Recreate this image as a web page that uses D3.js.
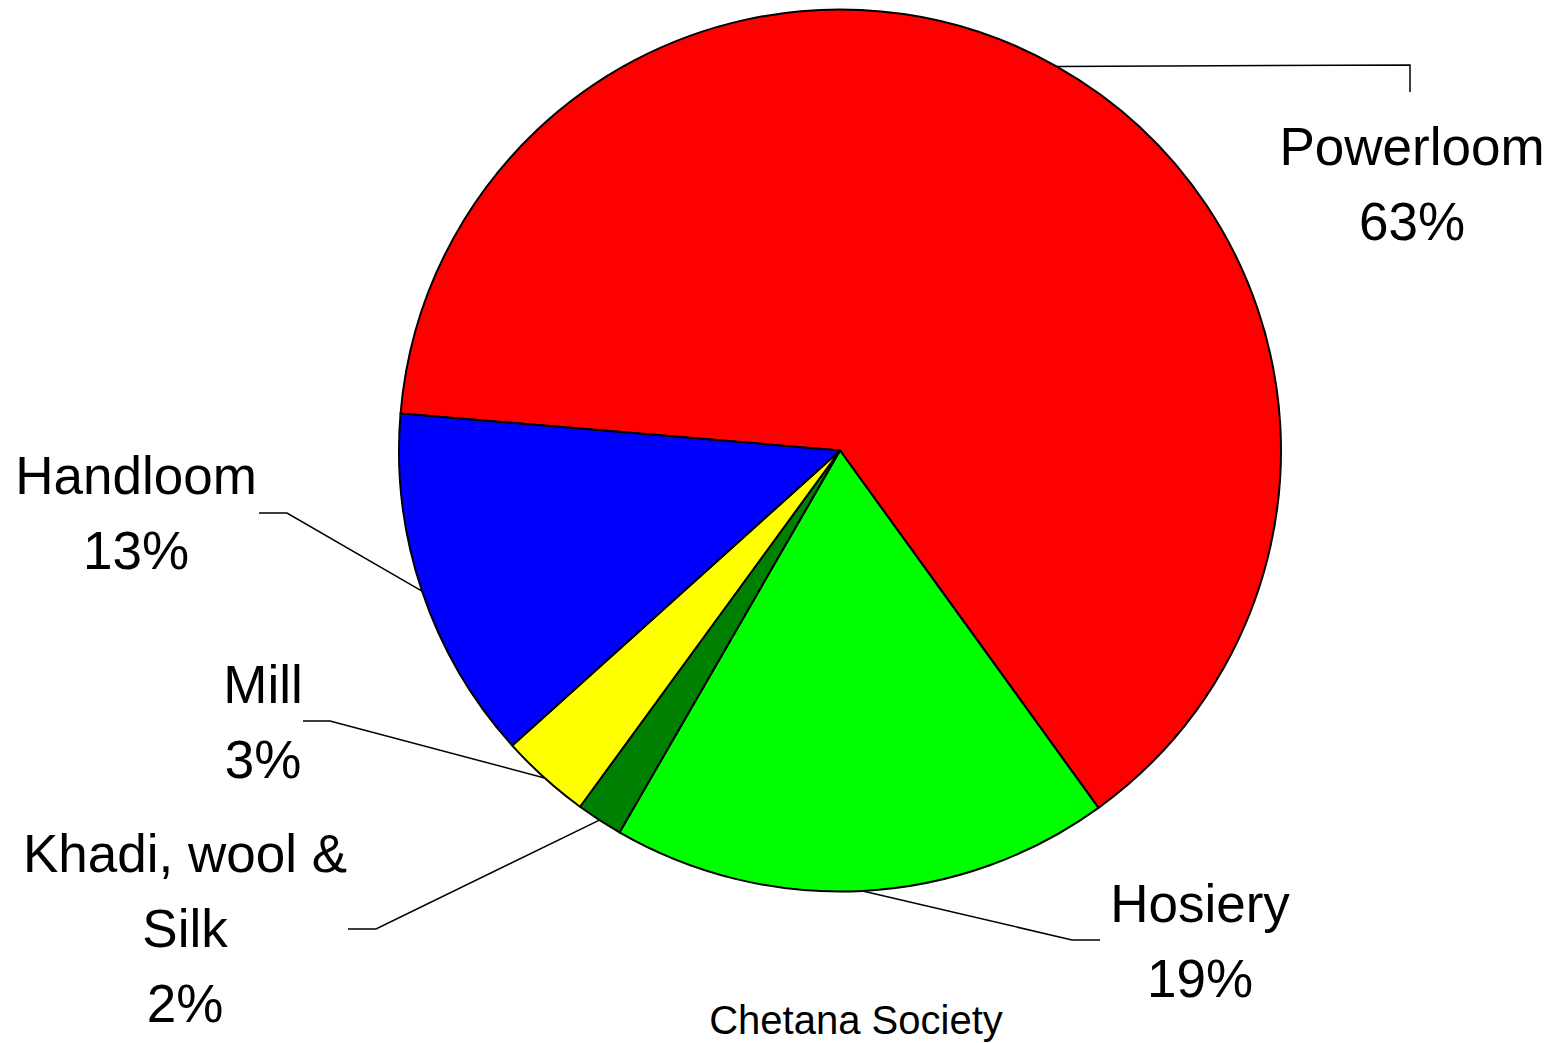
<!DOCTYPE html>
<html>
<head>
<meta charset="utf-8">
<script src="https://cdn.jsdelivr.net/npm/d3@7"></script>
<style>
	body { margin: 0; background: #fff; }
	svg { display: block; }
	text { font-family: "Liberation Sans", Arial, sans-serif; fill: #000; }
</style>
</head>
<body>
<svg width="1550" height="1043"></svg>
<script>
// data (clockwise from the Powerloom slice)
var categories = ["Powerloom", "Hosiery", "Khadi, wool & Silk", "Mill", "Handloom"];
var values = [63.7, 18.3, 1.7, 3.3, 13.0];
var labelLines = [["Powerloom"], ["Hosiery"], ["Khadi, wool &", "Silk"], ["Mill"], ["Handloom"]];
var percentLabels = ["63%", "19%", "2%", "3%", "13%"];
var colors = ["#ff0000", "#00ff00", "#008000", "#ffff00", "#0000ff"];
var source = "Chetana Society";

// label layout: elbow of leader line, end of leader line, label centre x, first baseline
var elbows = [[1410, 65], [1072, 940], [376, 929], [330, 721], [287, 513]];
var ends = [[1410, 92], [1100, 940], [348, 929], [303, 721], [259, 513]];
var labelX = [1412, 1200, 185, 263, 136];
var labelY = [165, 922, 872, 703, 494];

var svg = d3.select("svg"),
	width = +svg.attr("width"),
	height = +svg.attr("height");

var cx = 840, cy = 450.5, radius = 441;
var lineHeight = 75;

var pie = d3.pie()
	.sort(null)
	.value(function(d) { return d; })
	.startAngle(-85.2 * Math.PI / 180)
	.endAngle((360 - 85.2) * Math.PI / 180);

var arc = d3.arc().innerRadius(0).outerRadius(radius);
var edgeArc = d3.arc().innerRadius(radius).outerRadius(radius);

var arcs = pie(values);

var g = svg.append("g").attr("transform", "translate(" + cx + "," + cy + ")");

g.selectAll("path")
	.data(arcs)
	.enter().append("path")
	.attr("d", arc)
	.attr("fill", function(d, i) { return colors[i]; })
	.attr("stroke", "#000")
	.attr("stroke-width", 2)
	.attr("stroke-linejoin", "round");

// leader lines
svg.append("g")
	.selectAll("polyline")
	.data(arcs)
	.enter().append("polyline")
	.attr("points", function(d, i) {
		var p = edgeArc.centroid(d);
		return [[p[0] + cx, p[1] + cy], elbows[i], ends[i]].map(function(q) { return q.join(","); }).join(" ");
	})
	.attr("fill", "none")
	.attr("stroke", "#000")
	.attr("stroke-width", 1.5);

// labels
var labels = svg.append("g")
	.selectAll("text")
	.data(arcs)
	.enter().append("text")
	.attr("text-anchor", "middle")
	.attr("font-size", 53)
	.attr("x", function(d, i) { return labelX[i]; })
	.attr("y", function(d, i) { return labelY[i]; });

labels.each(function(d, i) {
	var t = d3.select(this);
	var lines = labelLines[i].concat([percentLabels[i]]);
	lines.forEach(function(s, k) {
		t.append("tspan")
			.attr("x", labelX[i])
			.attr("dy", k == 0 ? 0 : lineHeight)
			.text(s);
	});
});

svg.append("text")
	.attr("x", 856)
	.attr("y", 1034)
	.attr("text-anchor", "middle")
	.attr("font-size", 40)
	.text(source);
</script>
</body>
</html>
